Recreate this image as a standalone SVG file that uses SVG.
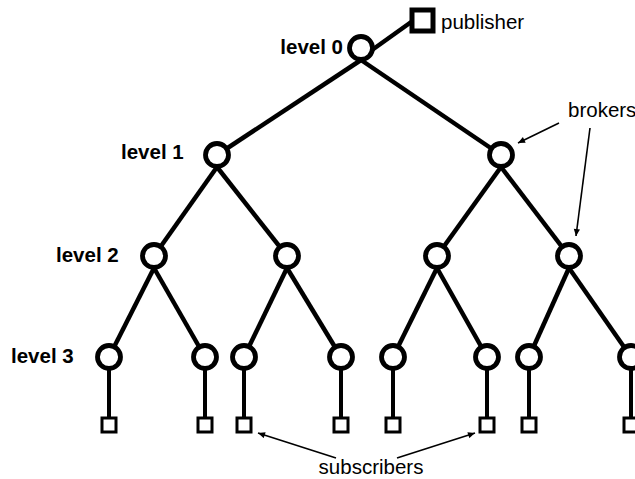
<svg xmlns="http://www.w3.org/2000/svg" width="635" height="479" viewBox="0 0 635 479">
<style>
.edge{stroke:#000;stroke-width:4.5;fill:none;stroke-linecap:butt}
.stem{stroke:#000;stroke-width:4;fill:none}
.ann{stroke:#000;stroke-width:1.6;fill:none}
.broker{fill:#fff;stroke:#000;stroke-width:4.8}
.sub{fill:#fff;stroke:#000;stroke-width:3}
.pub{fill:#fff;stroke:#000;stroke-width:5}
.lvl{font-family:"Liberation Sans",Arial,sans-serif;font-weight:bold;font-size:20.5px;fill:#000}
.lbl{font-family:"Liberation Sans",Arial,sans-serif;font-size:20.5px;fill:#000}
</style>
<defs>
<marker id="ah" viewBox="0 0 10 10" refX="10" refY="5" markerWidth="8" markerHeight="7" orient="auto" markerUnits="userSpaceOnUse">
<path d="M0,0.5 L10,5 L0,9.5 Z" fill="#000"/>
</marker>
</defs>
<g id="connectors">
<line class="edge" x1="372" y1="50" x2="414" y2="20"/>
<line class="edge" x1="361" y1="60" x2="217" y2="155"/>
<line class="edge" x1="361" y1="60" x2="501" y2="155"/>
<line class="edge" x1="217" y1="167" x2="154" y2="256"/>
<line class="edge" x1="217" y1="167" x2="287" y2="256"/>
<line class="edge" x1="501" y1="167" x2="437" y2="256"/>
<line class="edge" x1="501" y1="167" x2="569" y2="256"/>
<line class="edge" x1="154" y1="268" x2="109" y2="357"/>
<line class="edge" x1="154" y1="268" x2="205" y2="357"/>
<line class="edge" x1="287" y1="268" x2="244" y2="357"/>
<line class="edge" x1="287" y1="268" x2="341" y2="357"/>
<line class="edge" x1="437" y1="268" x2="393" y2="357"/>
<line class="edge" x1="437" y1="268" x2="487" y2="357"/>
<line class="edge" x1="569" y1="268" x2="529" y2="357"/>
<line class="edge" x1="569" y1="268" x2="631" y2="357"/>
<line class="stem" x1="109" y1="357" x2="109" y2="425"/>
<line class="stem" x1="205" y1="357" x2="205" y2="425"/>
<line class="stem" x1="244" y1="357" x2="244" y2="425"/>
<line class="stem" x1="341" y1="357" x2="341" y2="425"/>
<line class="stem" x1="393" y1="357" x2="393" y2="425"/>
<line class="stem" x1="487" y1="357" x2="487" y2="425"/>
<line class="stem" x1="529" y1="357" x2="529" y2="425"/>
<line class="stem" x1="631" y1="357" x2="631" y2="425"/>
<line class="ann" x1="559" y1="123" x2="518" y2="143" marker-end="url(#ah)"/>
<line class="ann" x1="590" y1="128" x2="576" y2="236" marker-end="url(#ah)"/>
<line class="ann" x1="336" y1="458" x2="258" y2="433" marker-end="url(#ah)"/>
<line class="ann" x1="397" y1="458" x2="475" y2="433" marker-end="url(#ah)"/>
</g>
<g id="publisher"><rect class="pub" x="412" y="10" width="21" height="21"/><text class="lbl" x="441" y="29">publisher</text></g>
<g id="n0"><circle class="broker" cx="361" cy="48" r="11.5"/><text class="lvl" x="343" y="54" text-anchor="end">level 0</text></g>
<g id="n1a"><circle class="broker" cx="217" cy="155" r="11.5"/><text class="lvl" x="121" y="159">level 1</text></g>
<g id="n1b"><circle class="broker" cx="501" cy="155" r="11.5"/></g>
<g id="n2a"><circle class="broker" cx="154" cy="256" r="11.5"/><text class="lvl" x="56" y="262">level 2</text></g>
<g id="n2b"><circle class="broker" cx="287" cy="256" r="11.5"/></g>
<g id="n2c"><circle class="broker" cx="437" cy="256" r="11.5"/></g>
<g id="n2d"><circle class="broker" cx="569" cy="256" r="11.5"/></g>
<g id="n3a"><circle class="broker" cx="109" cy="357" r="11.5"/><text class="lvl" x="11" y="363">level 3</text></g>
<g id="n3b"><circle class="broker" cx="205" cy="357" r="11.5"/></g>
<g id="n3c"><circle class="broker" cx="244" cy="357" r="11.5"/></g>
<g id="n3d"><circle class="broker" cx="341" cy="357" r="11.5"/></g>
<g id="n3e"><circle class="broker" cx="393" cy="357" r="11.5"/></g>
<g id="n3f"><circle class="broker" cx="487" cy="357" r="11.5"/></g>
<g id="n3g"><circle class="broker" cx="529" cy="357" r="11.5"/></g>
<g id="n3h"><circle class="broker" cx="631" cy="357" r="11.5"/></g>
<g id="s1"><rect class="sub" x="102" y="418" width="14" height="14"/></g>
<g id="s2"><rect class="sub" x="198" y="418" width="14" height="14"/></g>
<g id="s3"><rect class="sub" x="237" y="418" width="14" height="14"/></g>
<g id="s4"><rect class="sub" x="334" y="418" width="14" height="14"/></g>
<g id="s5"><rect class="sub" x="386" y="418" width="14" height="14"/></g>
<g id="s6"><rect class="sub" x="480" y="418" width="14" height="14"/></g>
<g id="s7"><rect class="sub" x="522" y="418" width="14" height="14"/></g>
<g id="s8"><rect class="sub" x="624" y="418" width="14" height="14"/></g>
<g id="brokers-label"><text class="lbl" x="568" y="117">brokers</text></g>
<g id="subscribers-label"><text class="lbl" x="371" y="474" text-anchor="middle">subscribers</text></g>
</svg>
